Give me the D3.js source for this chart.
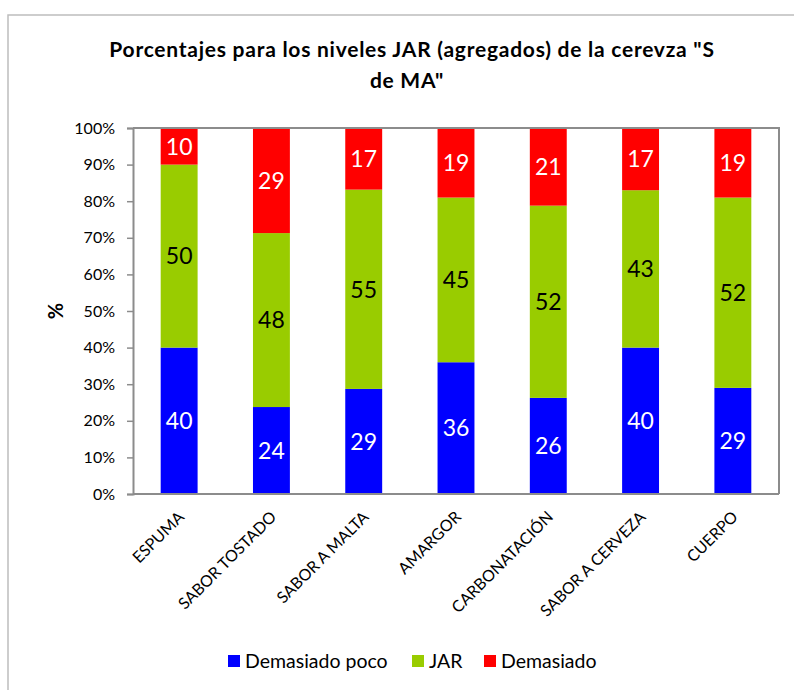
<!DOCTYPE html>
<html><head><meta charset="utf-8">
<script src="https://cdn.jsdelivr.net/npm/d3@7"></script>
<style>body{margin:0;background:#fff;} svg{display:block;font-family:Lato,"Open Sans",sans-serif;}</style>
</head><body>
<svg id="c" width="794" height="690"></svg>
<script>
const categories = ["ESPUMA","SABOR TOSTADO","SABOR A MALTA","AMARGOR","CARBONATACIÓN","SABOR A CERVEZA","CUERPO"];
const seriesNames = ["Demasiado poco","JAR","Demasiado"];
const demasiadoPoco = [40,24,29,36,26,40,29];
const jar = [50,48,55,45,52,43,52];
const demasiado = [10,29,17,19,21,17,19];
const yTicks = [0,0.1,0.2,0.3,0.4,0.5,0.6,0.7,0.8,0.9,1];
const colors = ["#0000ff","#99cc00","#ff0000"];
const labelColors = ["#fff","#000","#fff"];

const svg = d3.select("#c");
// outer frame
svg.append("rect").attr("x",8).attr("y",15).attr("width",800).attr("height",700)
  .attr("fill","none").attr("stroke","#bdbdbd").attr("stroke-width",1.5);

const m = {l:133, r:779, t:128, b:494};
const rows = categories.map((c,i)=>({cat:c, "Demasiado poco":demasiadoPoco[i], "JAR":jar[i], "Demasiado":demasiado[i]}));
const stack = d3.stack().keys(seriesNames).offset(d3.stackOffsetExpand)(rows);

const x = d3.scaleBand().domain(categories).range([m.l,m.r]).paddingInner(0.6).paddingOuter(0.3);
const y = d3.scaleLinear().domain([0,1]).range([m.b,m.t]);

// title
const title = svg.append("text").attr("text-anchor","middle").attr("font-weight","bold")
  .attr("font-size",21).attr("letter-spacing","0.75px").attr("fill","#000");
title.append("tspan").attr("x",412).attr("y",57).text('Porcentajes para los niveles JAR (agregados) de la cerevza "S');
title.append("tspan").attr("x",407).attr("y",88).text('de MA"');

// bars
stack.forEach((s,si)=>{
  const g = svg.append("g");
  g.selectAll("rect").data(s).join("rect")
    .attr("x",d=>x(d.data.cat)).attr("width",x.bandwidth())
    .attr("y",d=>y(d[1])).attr("height",d=>y(d[0])-y(d[1]))
    .attr("fill",colors[si]);
  g.selectAll("text").data(s).join("text")
    .attr("x",d=>x(d.data.cat)+x.bandwidth()/2)
    .attr("y",d=>(y(d[0])+y(d[1]))/2)
    .attr("dy","0.36em").attr("text-anchor","middle")
    .attr("font-size",23).attr("fill",labelColors[si])
    .text(d=>d.data[s.key]);
});

// plot border (top/right)
svg.append("path").attr("d",`M${m.l},${m.t}H${m.r}V${m.b}`).attr("fill","none")
  .attr("stroke","#8c8c8c").attr("stroke-width",2);

// y axis
const ya = svg.append("g").attr("transform",`translate(${m.l},0)`)
  .call(d3.axisLeft(y).tickValues(yTicks).tickFormat(d3.format(".0%")).tickSize(6).tickPadding(12));
ya.select(".domain").attr("stroke","#8c8c8c").attr("stroke-width",2);
ya.selectAll(".tick line").attr("stroke","#8c8c8c").attr("stroke-width",1.5);
ya.selectAll(".tick text").attr("font-size",16).attr("fill","#000").attr("font-family","Lato");

// x axis
const xa = svg.append("g").attr("transform",`translate(0,${m.b})`)
  .call(d3.axisBottom(x).tickSize(0).tickPadding(0));
xa.select(".domain").attr("stroke","#8c8c8c").attr("stroke-width",2).attr("d",`M${m.l},0H${m.r}`);
xa.selectAll(".tick text").attr("font-size",16).attr("fill","#000").attr("font-family","Lato")
  .attr("text-anchor","end").attr("dy","0.35em")
  .attr("transform","translate(2,20) rotate(-45)");

// y label
svg.append("text").attr("transform","translate(63,311) rotate(-90)").attr("text-anchor","middle")
  .attr("font-weight","bold").attr("font-size",20).text("%");

// legend
const legX = [228,412,484];
seriesNames.forEach((n,i)=>{
  svg.append("rect").attr("x",legX[i]).attr("y",655).attr("width",12).attr("height",12).attr("fill",colors[i]);
  svg.append("text").attr("x",legX[i]+17).attr("y",661).attr("dy","0.36em").attr("font-size",19.5).text(n);
});
</script>
</body></html>
